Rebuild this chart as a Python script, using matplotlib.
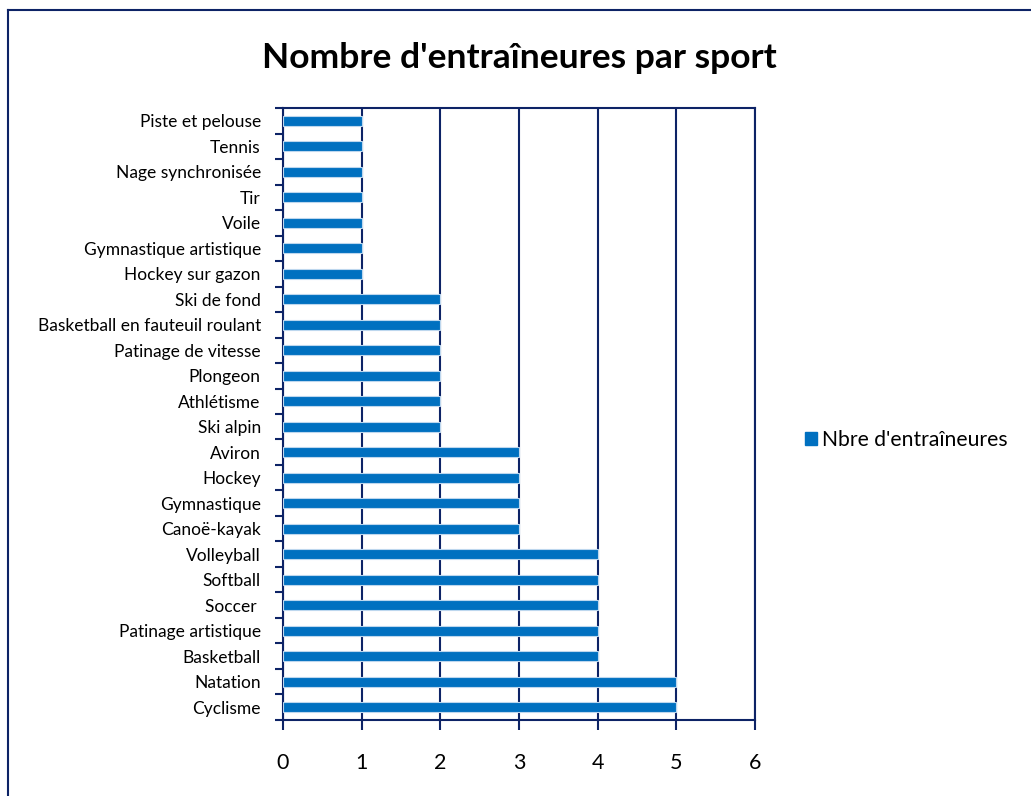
import matplotlib
matplotlib.use("Agg")
import matplotlib.pyplot as plt
from matplotlib.lines import Line2D
from matplotlib.patches import Patch
import numpy as np

plt.rcParams['font.family'] = ['Lato', 'DejaVu Sans']

sports = ['Piste et pelouse', 'Tennis', 'Nage synchronisée', 'Tir', 'Voile',
          'Gymnastique artistique', 'Hockey sur gazon', 'Ski de fond',
          'Basketball en fauteuil roulant', 'Patinage de vitesse', 'Plongeon',
          'Athlétisme', 'Ski alpin', 'Aviron', 'Hockey', 'Gymnastique',
          'Canoë-kayak', 'Volleyball', 'Softball', 'Soccer ',
          'Patinage artistique', 'Basketball', 'Natation', 'Cyclisme']
counts = [1, 1, 1, 1, 1, 1, 1, 2, 2, 2, 2, 2, 2, 3, 3, 3, 3, 4, 4, 4, 4, 4, 5, 5]
x_ticks = [0, 1, 2, 3, 4, 5, 6]

navy = '#0D2366'
blue = '#0070C0'

fig = plt.figure(figsize=(10.31, 7.96), dpi=100)
ax = fig.add_axes([0.2745, 0.0955, 0.4578, 0.7688])

n = len(sports)
pos = np.arange(n)
ax.barh(pos, counts, height=0.38, color=blue, edgecolor='#BDD7EE', linewidth=0.8,
        zorder=3, label="Nbre d'entraîneures")

ax.set_xlim(0, 6)
ax.set_ylim(n - 0.5, -0.5)
ax.set_xticks(x_ticks)
ax.set_xticklabels([str(v) for v in x_ticks], fontsize=15.5)
ax.tick_params(axis='x', direction='out', length=7, width=1.5, color=navy, pad=17)

ax.set_yticks(np.arange(n + 1) - 0.5)
ax.set_yticklabels([])
ax.set_yticks(pos, minor=True)
ax.set_yticklabels(sports, minor=True, fontsize=12.5)
ax.tick_params(axis='y', which='major', direction='out', length=6, width=1.5, color=navy)
ax.tick_params(axis='y', which='minor', length=0, pad=16)

ax.grid(axis='x', color=navy, linewidth=1.5, zorder=1)
for s in ax.spines.values():
    s.set_color(navy)
    s.set_linewidth(1.5)

ax.set_title("Nombre d'entraîneures par sport", fontsize=25.5, fontweight='bold',
             y=1.0, pad=29)

handle = [Patch(facecolor=blue, edgecolor=blue)]
fig.legend(handle, ["Nbre d'entraîneures"], loc='center left',
           bbox_to_anchor=(0.762, 0.447), frameon=False, fontsize=15.2,
           handlelength=0.6, handleheight=0.6, handletextpad=0.2)

# outer chart border (only left and top visible)
fig.add_artist(Line2D([8 / 1031, 8 / 1031], [0, 1 - 9.5 / 796], color=navy, lw=1.5))
fig.add_artist(Line2D([8 / 1031, 1], [1 - 9.5 / 796, 1 - 9.5 / 796], color=navy, lw=1.5))

fig.savefig('out.png', dpi=100)
